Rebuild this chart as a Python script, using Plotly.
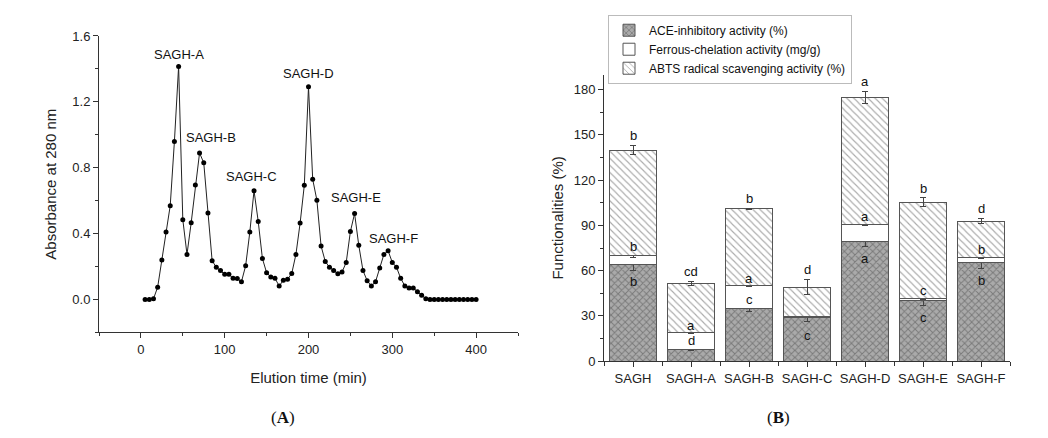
import plotly.graph_objects as go

# ---------------- Panel A data: elution profile ----------------
elution_time = [5, 10, 15, 20, 25, 30, 35, 40, 45, 50, 55, 60, 65, 70, 75, 80,
                85, 90, 95, 100, 105, 110, 115, 120, 125, 130, 135, 140, 145, 150,
                155, 160, 165, 170, 175, 180, 185, 190, 195, 200, 205, 210, 215,
                220, 225, 230, 235, 240, 245, 250, 255, 260, 265, 270, 275, 280,
                285, 290, 295, 300, 305, 310, 315, 320, 325, 330, 335, 340, 345,
                350, 355, 360, 365, 370, 375, 380, 385, 390, 395, 400]
absorbance = [0.0, 0.0, 0.004, 0.075, 0.24, 0.41, 0.57, 0.96, 1.415, 0.485,
              0.274, 0.466, 0.695, 0.89, 0.83, 0.525, 0.235, 0.196, 0.176, 0.153,
              0.153, 0.129, 0.127, 0.108, 0.205, 0.41, 0.661, 0.474, 0.249, 0.163,
              0.137, 0.129, 0.082, 0.117, 0.123, 0.158, 0.274, 0.464, 0.693, 1.291,
              0.73, 0.603, 0.325, 0.231, 0.196, 0.176, 0.157, 0.167, 0.225, 0.413,
              0.522, 0.329, 0.176, 0.114, 0.082, 0.108, 0.192, 0.274, 0.296, 0.225,
              0.196, 0.129, 0.082, 0.070, 0.070, 0.047, 0.026, 0.004, 0.0, 0.0,
              0.0, 0.0, 0.0, 0.0, 0.0, 0.0, 0.0, 0.0, 0.0, 0.0]
peak_names = ["SAGH-A", "SAGH-B", "SAGH-C", "SAGH-D", "SAGH-E", "SAGH-F"]
peak_label_t = [45, 84, 132, 200, 257, 301]
peak_label_a = [1.49, 0.985, 0.745, 1.37, 0.618, 0.368]

# ---------------- Panel B data: functionalities ----------------
samples = ["SAGH", "SAGH-A", "SAGH-B", "SAGH-C", "SAGH-D", "SAGH-E", "SAGH-F"]
ace = [64, 7.5, 35.2, 28.8, 79.4, 40.2, 65.3]
ace_err = [4, 0.6, 2, 2.7, 3.5, 3.4, 4]
ferrous = [6, 11.3, 14.8, 0.8, 11.2, 1.4, 3.5]
ferrous_err = [1.5, 0.5, 0.5, 0.3, 0.5, 0.5, 1.0]
abts = [70, 32.9, 51, 19.4, 84.3, 63.7, 24.1]
abts_err = [3.2, 1.4, 0.5, 5, 4, 2.9, 1.6]
ace_letters = ["b", "d", "c", "c", "a", "c", "b"]
ferrous_letters = ["b", "a", "a", "", "a", "c", "b"]
abts_letters = ["b", "cd", "b", "d", "a", "b", "d"]

# label placement (style): ACE letter inside (below top) or above
ace_letter_side = ["below", "above", "above", "below", "below", "below", "below"]

FONT = "Liberation Sans, Arial, sans-serif"
AXC = "#333333"
xpos = list(range(len(samples)))

fig = go.Figure()

# Panel A line
fig.add_trace(go.Scatter(
    x=elution_time, y=absorbance, mode="lines+markers",
    line=dict(color="#222222", width=1),
    marker=dict(color="#000000", size=5),
    showlegend=False, xaxis="x", yaxis="y", hoverinfo="skip"))

# Panel B stacked bars
fig.add_trace(go.Bar(
    x=xpos, y=ace, name="ACE-inhibitory activity (%)", width=0.8,
    marker=dict(color="#aaaaaa", line=dict(color="#555555", width=1),
                pattern=dict(shape="x", fgcolor="#4a4a4a", bgcolor="#aaaaaa",
                             size=5, solidity=0.35)),
    error_y=dict(type="data", array=ace_err, color="#444444", thickness=1, width=3),
    xaxis="x2", yaxis="y2"))
fig.add_trace(go.Bar(
    x=xpos, y=ferrous, name="Ferrous-chelation activity (mg/g)", width=0.8,
    marker=dict(color="#ffffff", line=dict(color="#555555", width=1)),
    error_y=dict(type="data", array=ferrous_err, color="#444444", thickness=1, width=3),
    xaxis="x2", yaxis="y2"))
fig.add_trace(go.Bar(
    x=xpos, y=abts, name="ABTS radical scavenging activity (%)", width=0.8,
    marker=dict(color="#ffffff", line=dict(color="#555555", width=1),
                pattern=dict(shape="\\", fgcolor="#555555", bgcolor="#ffffff",
                             size=5, solidity=0.22)),
    error_y=dict(type="data", array=abts_err, color="#444444", thickness=1, width=3),
    xaxis="x2", yaxis="y2"))

annotations = []
for name, t, a in zip(peak_names, peak_label_t, peak_label_a):
    annotations.append(dict(x=t, y=a, xref="x", yref="y", text=name, showarrow=False,
                            font=dict(family=FONT, size=13, color="#111111")))

letter_font = dict(family=FONT, size=13, color="#111111")
for i in xpos:
    ace_top = ace[i]
    fe_top = ace[i] + ferrous[i]
    total = fe_top + abts[i]
    annotations.append(dict(x=i, y=total + abts_err[i] + 6.5, xref="x2", yref="y2",
                            text=abts_letters[i], showarrow=False, font=letter_font))
    if ferrous_letters[i]:
        annotations.append(dict(x=i, y=fe_top + ferrous_err[i] + 4.5, xref="x2", yref="y2",
                                text=ferrous_letters[i], showarrow=False, font=letter_font))
    ya = ace_top - 11.5 if ace_letter_side[i] == "below" else ace_top + 6
    annotations.append(dict(x=i, y=ya, xref="x2", yref="y2",
                            text=ace_letters[i], showarrow=False, font=letter_font))

serif = dict(family="Liberation Serif, Times New Roman, serif", size=17, color="#111111")
annotations.append(dict(x=283 / 1048, y=1 - 425 / 438, xref="paper", yref="paper",
                        xanchor="center", yanchor="middle",
                        text="(<b>A</b>)", showarrow=False, font=serif))
annotations.append(dict(x=778 / 1048, y=1 - 425 / 438, xref="paper", yref="paper",
                        xanchor="center", yanchor="middle",
                        text="(<b>B</b>)", showarrow=False, font=serif))

axis_common = dict(showline=True, linecolor=AXC, linewidth=1, ticks="outside",
                   ticklen=5, tickcolor=AXC, showgrid=False, zeroline=False,
                   tickfont=dict(family=FONT, size=13, color="#222222"))

fig.update_layout(
    width=1048, height=438,
    margin=dict(l=0, r=0, t=0, b=0),
    paper_bgcolor="white", plot_bgcolor="white",
    font=dict(family=FONT, size=13, color="#222222"),
    barmode="stack",
    xaxis=dict(domain=[99 / 1048, 518 / 1048], range=[-50, 450], tick0=0, dtick=100,
               anchor="y",
               minor=dict(ticks="outside", dtick=50, ticklen=3, tickcolor=AXC),
               title=dict(text="Elution time (min)", font=dict(family=FONT, size=15),
                          standoff=16),
               **axis_common),
    yaxis=dict(domain=[1 - 337 / 438, 1 - 30 / 438], range=[-0.2, 1.6], tick0=0,
               dtick=0.4, tickformat=".1f", anchor="x",
               minor=dict(ticks="outside", dtick=0.2, ticklen=3, tickcolor=AXC),
               title=dict(text="Absorbance at 280 nm", font=dict(family=FONT, size=15),
                          standoff=12),
               **axis_common),
    xaxis2=dict(domain=[604 / 1048, 1010 / 1048], range=[-0.5, 6.5],
                tickmode="array", tickvals=xpos, ticktext=samples, anchor="y2",
                minor=dict(ticks="outside", tick0=0.5, dtick=0.5, ticklen=4, tickcolor=AXC),
                **axis_common),
    yaxis2=dict(domain=[1 - 366.7 / 438, 1 - 70 / 438], range=[0, 190], tick0=0,
                dtick=30, anchor="x2",
                minor=dict(ticks="outside", dtick=15, ticklen=3, tickcolor=AXC),
                title=dict(text="Functionalities (%)", font=dict(family=FONT, size=15),
                           standoff=6),
                **axis_common),
    legend=dict(x=608 / 1048, y=1 - 8 / 438, xanchor="left", yanchor="top",
                traceorder="normal", bordercolor="#bbbbbb", borderwidth=1,
                bgcolor="white", font=dict(family=FONT, size=12, color="#111111"),
                itemwidth=30, tracegroupgap=0),
    annotations=annotations,
)

fig.write_html("out.html")
